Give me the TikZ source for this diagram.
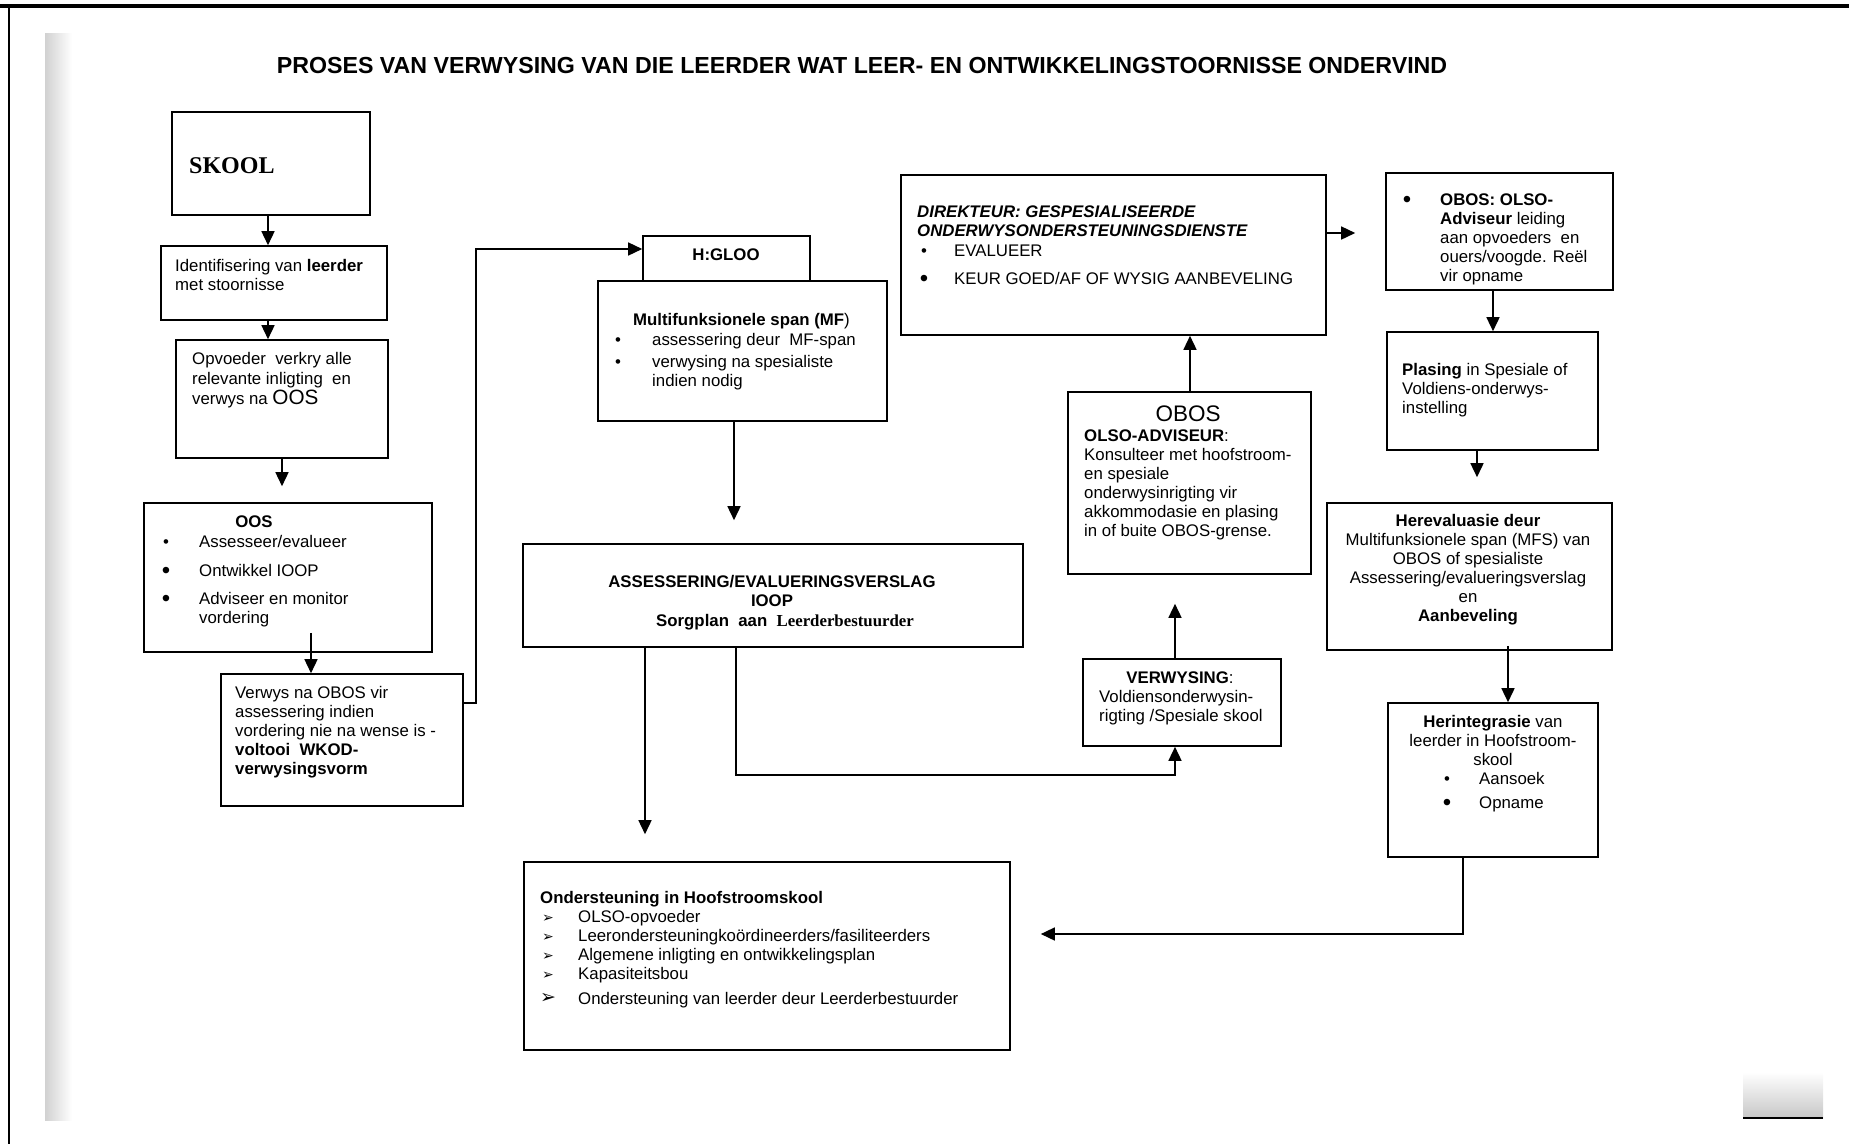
\documentclass[tikz,border=0pt]{standalone}
\usepackage{fontspec}
\setmainfont{Liberation Sans}
\newfontfamily\serifbf{Liberation Serif}
\newfontfamily\symfont{DejaVu Sans}
\usetikzlibrary{arrows.meta,fit,calc}

\begin{document}
\begin{tikzpicture}[x=1pt,y=-1pt,
  box/.style={draw, line width=1.6pt, inner sep=0pt},
  conn/.style={line width=1.5pt, -{Triangle[length=14pt,width=13pt]}},
  txt/.style={inner sep=0pt, align=left, font=\fontsize{16.8}{19}\selectfont},
  blt/.style={inner sep=0pt, anchor=base, font=\fontsize{16.8}{19}\selectfont},
  bigblt/.style={inner sep=0pt, anchor=base, font=\fontsize{24}{19}\selectfont},
  arrblt/.style={inner sep=0pt, anchor=base, font=\symfont\fontsize{14}{19}\selectfont},
]
\useasboundingbox (0,0) rectangle (1849,1144);

% paper edge and scanner shadow
\shade[left color=black!18, right color=white] (45,33) rectangle (72,1120);
\shade[top color=white, bottom color=black!22] (1743,1072) rectangle (1823,1118);
\draw[line width=1.2pt] (1743,1118) -- (1823,1118);
\draw[line width=4pt] (0,6) -- (1849,6);
\draw[line width=2pt] (9,6) -- (9,1144);

% title
\node[inner sep=0pt, anchor=base, font=\bfseries\fontsize{23.2}{27}\selectfont] (title) at (862,73)
  {PROSES VAN VERWYSING VAN DIE LEERDER WAT LEER- EN ONTWIKKELINGSTOORNISSE ONDERVIND};

% boxes
\node[box, fit={(172,112)(370,215)}] (skool) {};
\node[box, fit={(161,246)(387,320)}] (ident) {};
\node[box, fit={(176,340)(388,458)}] (opv) {};
\node[box, fit={(144,503)(432,652)}] (oos) {};
\node[box, fit={(221,674)(463,806)}] (verw) {};
\node[box, fit={(643,236)(810,281)}] (hgloo) {};
\node[box, fit={(598,281)(887,421)}] (mf) {};
\node[box, fit={(523,544)(1023,647)}] (asses) {};
\node[box, fit={(524,862)(1010,1050)}] (onder) {};
\node[box, fit={(901,175)(1326,335)}] (dir) {};
\node[box, fit={(1068,392)(1311,574)}] (obos) {};
\node[box, fit={(1083,659)(1281,746)}] (verwy) {};
\node[box, fit={(1386,173)(1613,290)}] (olso) {};
\node[box, fit={(1387,332)(1598,450)}] (plas) {};
\node[box, fit={(1327,503)(1612,650)}] (herev) {};
\node[box, fit={(1388,703)(1598,857)}] (herin) {};

% box texts (multi-line nodes are placed by the baseline of their last line)
\node[inner sep=0pt, anchor=base west, font=\serifbf\bfseries\fontsize{24}{28}\selectfont] (skoolT) at (189,173) {SKOOL};
\node[txt, anchor=base west] (identT) at (175,290) {Identifisering van \textbf{leerder}\\met stoornisse};
\node[txt, anchor=base west, font=\fontsize{16.8}{20}\selectfont] (opvT) at (192,404)
  {Opvoeder\ \ verkry alle\\relevante inligting\ \ en\\verwys na {\fontsize{20.7}{20}\selectfont OOS}};

\node[txt, anchor=base, font=\bfseries\fontsize{16.8}{19}\selectfont] (oosT) at (254,527) {OOS};
\node[blt] (oosB1) at (166,547) {•};
\node[bigblt] (oosB2) at (166,578) {•};
\node[bigblt] (oosB3) at (166,606) {•};
\node[txt, anchor=base west] (oosL1) at (199,547) {Assesseer/evalueer};
\node[txt, anchor=base west] (oosL2) at (199,576) {Ontwikkel IOOP};
\node[txt, anchor=base west] (oosL3) at (199,623) {Adviseer en monitor\\vordering};

\node[txt, anchor=base west] (verwT) at (235,774)
  {Verwys na OBOS vir\\assessering indien\\vordering nie na wense is -\\\textbf{voltooi\ \ WKOD-}\\\textbf{verwysingsvorm}};

\node[txt, anchor=base, font=\bfseries\fontsize{16.8}{19}\selectfont] (hglooT) at (726,260) {H:GLOO};
\node[txt, anchor=base west] (mfT) at (633,325) {\textbf{Multifunksionele span (MF})};
\node[blt] (mfB1) at (618,345) {•};
\node[blt] (mfB2) at (618,367) {•};
\node[txt, anchor=base west] (mfL1) at (652,345) {assessering deur\ \ MF-span};
\node[txt, anchor=base west] (mfL2) at (652,386) {verwysing na spesialiste\\indien nodig};

\node[txt, anchor=base, align=center, font=\bfseries\fontsize{16.8}{19.5}\selectfont] (assesT) at (772,606.5)
  {ASSESSERING/EVALUERINGSVERSLAG\\IOOP};
\node[txt, anchor=base, font=\bfseries\fontsize{16.8}{19}\selectfont] (assesS) at (785,626)
  {Sorgplan\ \ aan\ \ {\serifbf Leerderbestuurder}};

\node[txt, anchor=base west, font=\bfseries\fontsize{16.8}{19}\selectfont] (onderT) at (540,903) {Ondersteuning in Hoofstroomskool};
\node[arrblt] (onA1) at (548,922) {➢};
\node[arrblt] (onA2) at (548,941) {➢};
\node[arrblt] (onA3) at (548,960) {➢};
\node[arrblt] (onA4) at (548,979) {➢};
\node[arrblt, font=\symfont\fontsize{19}{19}\selectfont] (onA5) at (548,1003) {➢};
\node[txt, anchor=base west] (onL1) at (578,922) {OLSO-opvoeder};
\node[txt, anchor=base west] (onL2) at (578,941) {Leerondersteuningkoördineerders/fasiliteerders};
\node[txt, anchor=base west] (onL3) at (578,960) {Algemene inligting en ontwikkelingsplan};
\node[txt, anchor=base west] (onL4) at (578,979) {Kapasiteitsbou};
\node[txt, anchor=base west] (onL5) at (578,1004) {Ondersteuning van leerder deur Leerderbestuurder};

\node[txt, anchor=base west, font=\bfseries\itshape\fontsize{16.8}{19}\selectfont] (dirT) at (917,236)
  {DIREKTEUR: GESPESIALISEERDE\\ONDERWYSONDERSTEUNINGSDIENSTE};
\node[blt] (dirB1) at (924,256) {•};
\node[bigblt] (dirB2) at (924,286) {•};
\node[txt, anchor=base west] (dirL1) at (954,256) {EVALUEER};
\node[txt, anchor=base west] (dirL2) at (954,284) {KEUR GOED/AF OF WYSIG AANBEVELING};

\node[inner sep=0pt, anchor=base, font=\fontsize{22.5}{26}\selectfont] (obosT) at (1188,421) {OBOS};
\node[txt, anchor=base west] (obosL) at (1084,536)
  {\textbf{OLSO-ADVISEUR}:\\Konsulteer met hoofstroom-\\en spesiale\\onderwysinrigting vir\\akkommodasie en plasing\\in of buite OBOS-grense.};

\node[txt, anchor=base] (verwyT) at (1180,683) {\textbf{VERWYSING}:};
\node[txt, anchor=base west] (verwyL) at (1099,721) {Voldiensonderwysin-\\rigting /Spesiale skool};

\node[bigblt] (olsoB) at (1407,207) {•};
\node[txt, anchor=base west] (olsoT) at (1440,281)
  {\textbf{OBOS: OLSO-}\\\textbf{Adviseur} leiding\\aan opvoeders\ \ en\\ouers/voogde. Reël\\vir opname};

\node[txt, anchor=base west] (plasT) at (1402,413) {\textbf{Plasing} in Spesiale of\\Voldiens-onderwys-\\instelling};

\node[txt, anchor=base, align=center] (herevT) at (1468,621)
  {\textbf{Herevaluasie deur}\\Multifunksionele span (MFS) van\\OBOS of spesialiste\\Assessering/evalueringsverslag\\en\\\textbf{Aanbeveling}};

\node[txt, anchor=base, align=center] (herinT) at (1493,765) {\textbf{Herintegrasie} van\\leerder in Hoofstroom-\\skool};
\node[blt] (herinB1) at (1447,784) {•};
\node[bigblt] (herinB2) at (1447,810) {•};
\node[txt, anchor=base west] (herinL1) at (1479,784) {Aansoek};
\node[txt, anchor=base west] (herinL2) at (1479,808) {Opname};

% connector columns and rows
\coordinate (k1) at (268,0);
\coordinate (k2) at (282,0);
\coordinate (k3) at (311,0);
\coordinate (k4) at (476,0);
\coordinate (k5) at (734,0);
\coordinate (k6) at (645,0);
\coordinate (k7) at (736,0);
\coordinate (k8) at (1175,0);
\coordinate (k9) at (1190,0);
\coordinate (k10) at (1493,0);
\coordinate (k11) at (1477,0);
\coordinate (k12) at (1508,0);
\coordinate (k13) at (1463,0);
\coordinate (r1) at (0,703);
\coordinate (r2) at (0,249);
\coordinate (r3) at (0,775);
\coordinate (r4) at (0,233);
\coordinate (r5) at (0,934);

% connectors
\draw[conn] (skool.south -| k1) -- (ident.north -| k1);
\draw[conn] (ident.south -| k1) -- (opv.north -| k1);
\draw[conn, shorten >=16pt] (opv.south -| k2) -- (oos.north -| k2);
\draw[conn] ($(oos.south -| k3)+(0,-20)$) -- (verw.north -| k3);
\draw[conn] (verw.east |- r1) -- (k4 |- r1) -- (k4 |- r2) -- (hgloo.west |- r2);
\draw[conn, shorten >=23pt] (mf.south -| k5) -- (asses.north -| k5);
\draw[conn, shorten >=27pt] (asses.south -| k6) -- (onder.north -| k6);
\draw[conn] (asses.south -| k7) -- (k7 |- r3) -- (k8 |- r3) -- (verwy.south -| k8);
\draw[conn, shorten >=29pt] (verwy.north -| k8) -- (obos.south -| k8);
\draw[conn] (obos.north -| k9) -- (dir.south -| k9);
\draw[conn, shorten >=30pt] (dir.east |- r4) -- (olso.west |- r4);
\draw[conn] (olso.south -| k10) -- (plas.north -| k10);
\draw[conn, shorten >=25pt] (plas.south -| k11) -- (herev.north -| k11);
\draw[conn] ($(herev.south -| k12)+(0,-5)$) -- (herin.north -| k12);
\draw[conn, shorten >=30pt] (herin.south -| k13) -- (k13 |- r5) -- (onder.east |- r5);
\end{tikzpicture}
\end{document}
